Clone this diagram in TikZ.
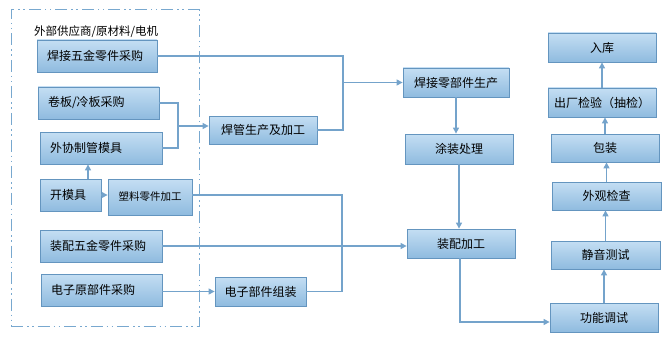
\documentclass[tikz,border=0pt]{standalone}
\usepackage{fontspec}
\setmainfont{Noto Sans CJK SC}
\usetikzlibrary{arrows.meta}
\definecolor{boxtop}{HTML}{C4DEF3}
\definecolor{boxbot}{HTML}{8FBBDF}
\definecolor{boxline}{HTML}{6495BF}
\definecolor{conn}{HTML}{74A3CB}
\definecolor{frame}{HTML}{78A8CF}
\tikzset{
  box/.style={draw=boxline, line width=0.8pt, top color=boxtop, bottom color=boxbot,
    inner sep=0pt, font=\fontsize{12}{14}\selectfont, text=black},
  lbox/.style={box, align=left, inner xsep=10pt},
  conline/.style={draw=conn, line width=1.1pt},
  arr/.style={conline, -{Triangle[length=6pt,width=6pt]}},
}
\begin{document}
\begin{tikzpicture}[x=1pt,y=-1pt]
\useasboundingbox (0,0) rectangle (668,342);
% frame
\node (fr) [draw=frame, line width=1pt, dash pattern=on 12pt off 4pt on 1.5pt off 3.5pt on 1.5pt off 4pt,
  minimum width=188pt, minimum height=316pt, inner sep=0pt] at (105,168) {};
\node (lab) [anchor=west, inner sep=0pt, font=\fontsize{11.5}{13}\selectfont] at (34,32) {外部供应商/原材料/电机};
% left boxes
\node (b1) [lbox, text width=100pt, minimum height=32pt] at (97,56) {焊接五金零件采购};
\node (b2) [lbox, text width=101pt, minimum height=32pt] at (98.5,103) {卷板/冷板采购};
\node (b3) [lbox, text width=102pt, minimum height=32pt] at (101,148) {外协制管模具};
\node (b4) [lbox, text width=41pt, minimum height=32pt] at (70.5,195) {开模具};
\node (b5) [box, minimum width=84pt, minimum height=36pt, font=\fontsize{10.5}{12}\selectfont] at (150,197) {塑料零件加工};
\node (b6) [lbox, text width=102pt, minimum height=32pt] at (101,246) {装配五金零件采购};
\node (b7) [lbox, text width=101pt, minimum height=32pt] at (101.5,290) {电子原部件采购};
% middle
\node (b8) [box, minimum width=91pt, minimum height=29pt] at (260.5,291.5) {电子部件组装};
\node (b9) [box, minimum width=108pt, minimum height=28pt] at (263,130) {焊管生产及加工};
\node (b10) [box, minimum width=106pt, minimum height=29pt] at (456,82.5) {焊接零部件生产};
\node (b11) [box, minimum width=108pt, minimum height=30pt] at (459,149) {涂装处理};
\node (b12) [box, minimum width=108pt, minimum height=29pt] at (461,243.5) {装配加工};
% right column
\node (b13) [box, minimum width=108pt, minimum height=29pt] at (604,317.5) {功能调试};
\node (b14) [box, minimum width=109pt, minimum height=28pt] at (605.5,255) {静音测试};
\node (b15) [box, minimum width=109pt, minimum height=28pt] at (606.5,196) {外观检查};
\node (b16) [box, minimum width=108pt, minimum height=28pt] at (605,148) {包装};
\node (b17) [box, minimum width=108pt, minimum height=29pt] at (602,102.5) {出厂检验（抽检）};
\node (b18) [box, minimum width=108pt, minimum height=29pt] at (602,47.5) {入库};
% junction coordinates
\coordinate (j1) at (343,0);
\coordinate (j2) at (178,0);
\coordinate (a2) at (178,126);
\coordinate (k) at (88,0);
\coordinate (j3) at (342,0);
\coordinate (c13) at (460,322);
% connectors
\draw[conline] (b1.east) -| (j1 |- b9.east) -- (b9.east);
\draw[arr] (j1 |- b10.west) -- (b10.west);
\draw[conline] (b2.east) -| (j2 |- b3.east) -- (b3.east);
\draw[arr] (a2) -- (a2 -| b9.west);
\draw[arr] (k |- b4.north) -- (k |- b3.south);
\draw[arr] (b4.east |- 0,195) -- (b5.west |- 0,195);
\draw[conline] (b5.east |- 0,195) -| (j3 |- b8.east) -- (b8.east);
\draw[arr] (b6.east) -- (b6.east -| b12.west);
\draw[arr] (b8.west -| b7.east) -- (b8.west);
\draw[arr] (b10.south) -- (b10.south |- b11.north);
\draw[arr] (b11.south) -- (b11.south |- b12.north);
\draw[arr] (c13 |- b12.south) -- (c13) -- (c13 -| b13.west);
\draw[arr] (b13.north) -- (b13.north |- b14.south);
\draw[arr] (b14.north) -- (b14.north |- b15.south);
\draw[arr] (b15.north) -- (b15.north |- b16.south);
\draw[arr] (b16.north) -- (b16.north |- b17.south);
\draw[arr] (b17.north) -- (b17.north |- b18.south);
\end{tikzpicture}
\end{document}
